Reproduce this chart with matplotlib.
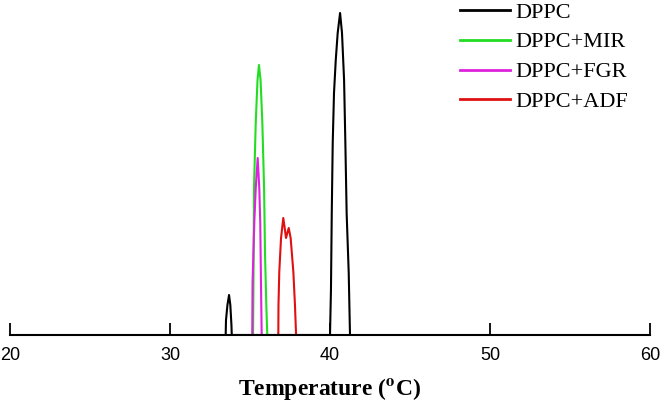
import matplotlib
matplotlib.use("Agg")
import matplotlib.pyplot as plt

# DSC thermograms (arbitrary heat-flow units)
dppc_T = [33.48, 33.50, 33.59, 33.69, 33.77, 33.84, 33.86,
          40.00, 40.06, 40.11, 40.17, 40.25, 40.36, 40.48, 40.63,
          40.75, 40.88, 40.96, 41.04, 41.17, 41.25]
dppc_h = [0, 15, 30, 40, 30, 10, 0,
          0, 45, 122, 192, 242, 275, 302, 322,
          302, 255, 192, 122, 62, 0]

mir_T = [35.19, 35.22, 35.25, 35.36, 35.47, 35.56, 35.66, 35.77, 35.88, 35.94, 36.02, 36.08]
mir_h = [0, 60, 147, 213, 255, 270, 255, 213, 147, 80, 30, 0]

fgr_T = [35.14, 35.16, 35.21, 35.27, 35.36, 35.48, 35.58, 35.64, 35.69, 35.73]
fgr_h = [0, 53, 80, 113, 147, 177, 147, 113, 47, 0]

adf_T = [36.77, 36.78, 36.83, 36.94, 37.08, 37.16, 37.25, 37.42, 37.54, 37.71, 37.81, 37.88]
adf_h = [0, 30, 63, 97, 117, 108, 97, 107, 97, 63, 30, 0]

labels = ["DPPC", "DPPC+MIR", "DPPC+FGR", "DPPC+ADF"]
colors = ["#000000", "#22dd22", "#dd22dd", "#e01010"]
xticks = [20, 30, 40, 50, 60]

plt.rcParams['mathtext.fontset'] = 'stix'

fig = plt.figure(figsize=(6.61, 4.03), dpi=100)
ax = fig.add_axes([10 / 661, 68 / 403, 640 / 661, 330 / 403])

series = [(dppc_T, dppc_h), (mir_T, mir_h), (fgr_T, fgr_h), (adf_T, adf_h)]
for (t, h), lab, c in zip(series, labels, colors):
    ax.plot(t, h, color=c, lw=1.5, label=lab)

ax.set_xlim(20, 60)
ax.set_ylim(0, 330)
for s in ['top', 'right', 'left']:
    ax.spines[s].set_visible(False)
ax.spines['bottom'].set_linewidth(1.5)
ax.spines['bottom'].set_zorder(5)
ax.set_yticks([])
ax.set_xticks(xticks)
ax.tick_params(axis='x', direction='in', length=9, width=1.3, pad=9,
               labelsize=13)
for lbl in ax.get_xticklabels():
    lbl.set_family('Liberation Sans')

ax.set_xlabel(r'Temperature ($\mathbf{^{o}}$C)', family='Liberation Serif',
              fontweight='bold', fontsize=17, labelpad=8)

leg = ax.legend(loc='upper left', bbox_to_anchor=(460 / 661, 1.0 - 2 / 403),
                bbox_transform=fig.transFigure, frameon=False,
                borderpad=0, borderaxespad=0, handlelength=2.25,
                handletextpad=0.25, labelspacing=0.42,
                prop={'family': 'Liberation Serif', 'size': 16})
for ln in leg.get_lines():
    ln.set_linewidth(2)

fig.savefig("out.png", dpi=100)
